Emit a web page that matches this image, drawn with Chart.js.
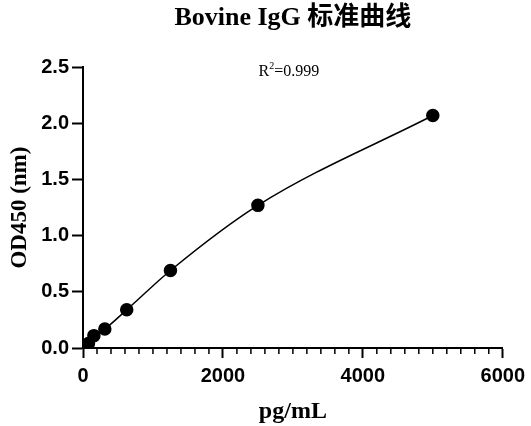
<!DOCTYPE html>
<html>
<head>
<meta charset="utf-8">
<script src="https://cdn.jsdelivr.net/npm/chart.js@4.4.1/dist/chart.umd.min.js"></script>
<style>
  html, body { margin: 0; padding: 0; background: #fff; }
  #wrap { width: 531px; height: 426px; }
</style>
</head>
<body>
<div id="wrap"><canvas id="stdCurve"></canvas></div>
<script>
// standard points
const concentrations = [78, 156, 312, 625, 1250, 2500, 5000];
const odValues = [0.04, 0.11, 0.17, 0.34, 0.69, 1.27, 2.07];
const rSquared = '0.999';

const xMinorStep = 200;

const points = concentrations.map((c, i) => ({ x: c, y: odValues[i] }));

// minor ticks on the x axis + R^2 label
const extras = {
  id: 'extras',
  afterDraw(chart) {
    const c = chart.ctx;
    const xs = chart.scales.x;
    const area = chart.chartArea;
    c.save();
    c.strokeStyle = '#000';
    c.lineWidth = 1.5;
    for (let v = xs.min; v <= xs.max; v += xMinorStep) {
      if (v % 2000 === 0) continue;
      const px = xs.getPixelForValue(v);
      c.beginPath();
      c.moveTo(px, area.bottom);
      c.lineTo(px, area.bottom + 6);
      c.stroke();
    }
    // R^2 text
    c.fillStyle = '#000';
    c.textBaseline = 'alphabetic';
    const mid = (area.left + area.right) / 2 - 4;
    const base = area.top + 9;
    const big = '16px "Liberation Serif"', small = '10px "Liberation Serif"';
    c.font = big;
    const wR = c.measureText('R').width;
    const rest = '=' + rSquared;
    const wRest = c.measureText(rest).width;
    c.font = small;
    const wS = c.measureText('2').width;
    const x0 = mid - (wR + wS + wRest) / 2;
    c.font = big;
    c.fillText('R', x0, base);
    c.font = small;
    c.fillText('2', x0 + wR, base - 7);
    c.font = big;
    c.fillText(rest, x0 + wR + wS, base);
    c.restore();
  }
};

new Chart(document.getElementById('stdCurve'), {
  type: 'scatter',
  data: {
    datasets: [{
      label: 'Bovine IgG',
      data: points,
      showLine: true,
      borderColor: '#000',
      borderWidth: 1.5,
      backgroundColor: '#000',
      pointRadius: 6,
      pointHoverRadius: 6,
      cubicInterpolationMode: 'monotone',
    }]
  },
  options: {
    responsive: true,
    maintainAspectRatio: false,
    animation: false,
    layout: { padding: { left: 0, right: 28, top: 0, bottom: 0 } },
    plugins: {
      legend: { display: false },
      tooltip: { enabled: false },
      title: {
        display: true,
        text: 'Bovine IgG 标准曲线',
        color: '#000',
        fullSize: false,
        font: { family: '"Liberation Serif", "Noto Sans CJK SC", serif', size: 26, weight: 'bold' },
        padding: { top: 3, bottom: 33 },
      },
    },
    scales: {
      x: {
        type: 'linear',
        min: 0,
        max: 6000,
        afterFit: s => { s.height = 78; },
        ticks: {
          stepSize: 2000,
          color: '#000',
          padding: 6,
          callback: v => String(v),
          font: { family: '"Liberation Sans", Arial', size: 20, weight: 'bold' },
        },
        grid: { drawOnChartArea: false, drawTicks: true, tickLength: 10, tickWidth: 2, tickColor: '#000' },
        border: { display: true, color: '#000', width: 2 },
        title: {
          display: true,
          text: 'pg/mL',
          color: '#000',
          padding: { top: 6, bottom: 0 },
          font: { family: '"Liberation Serif", serif', size: 24, weight: 'bold' },
        },
      },
      y: {
        min: 0,
        max: 2.5,
        afterFit: s => { s.width = 83; },
        ticks: {
          stepSize: 0.5,
          color: '#000',
          padding: 3,
          callback: v => v.toFixed(1),
          font: { family: '"Liberation Sans", Arial', size: 20, weight: 'bold' },
        },
        grid: { drawOnChartArea: false, drawTicks: true, tickLength: 11, tickWidth: 2, tickColor: '#000' },
        border: { display: true, color: '#000', width: 2 },
        title: {
          display: true,
          text: 'OD450 (nm)',
          color: '#000',
          padding: { top: 6, bottom: 0 },
          font: { family: '"Liberation Serif", serif', size: 23, weight: 'bold' },
        },
      },
    },
  },
  plugins: [extras],
});
</script>
</body>
</html>
